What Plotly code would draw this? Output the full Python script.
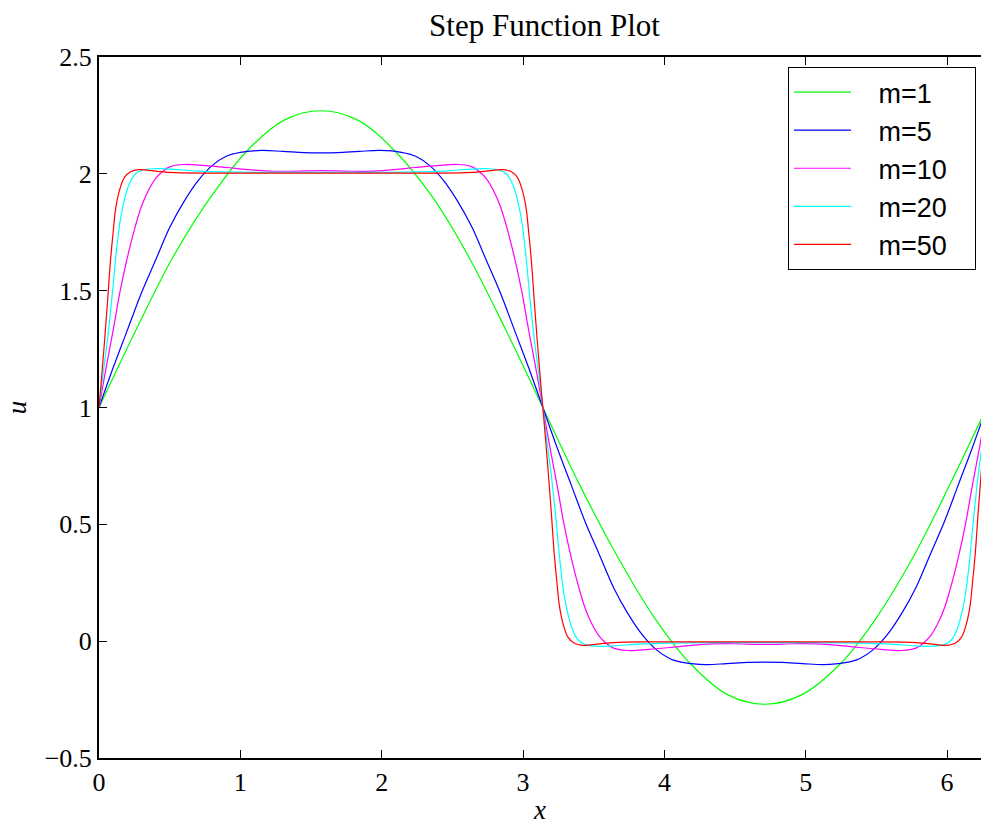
import plotly.graph_objects as go

# ---- data ----
x_m1 = [0, 0.26, 0.52, 0.79, 1.05, 1.31, 1.57, 1.83, 2.09, 2.36, 2.62, 2.88, 3.14,
        3.40, 3.67, 3.93, 4.19, 4.45, 4.71, 4.97, 5.24, 5.50, 5.76, 6.02, 6.28]
u_m1 = [1.00, 1.33, 1.64, 1.90, 2.10, 2.23, 2.27, 2.23, 2.10, 1.90, 1.64, 1.33, 1.00,
        0.67, 0.36, 0.10, -0.10, -0.23, -0.27, -0.23, -0.10, 0.10, 0.36, 0.67, 1.00]

x_m5 = [0, 0.1, 0.2, 0.3, 0.4, 0.5, 0.6, 0.7, 0.8, 0.9, 1.0, 1.15, 1.3, 1.45, 1.57,
        1.69, 1.84, 1.99, 2.14, 2.24, 2.34, 2.44, 2.54, 2.64, 2.74, 2.84, 2.94, 3.04, 3.14,
        3.24, 3.34, 3.44, 3.54, 3.64, 3.74, 3.84, 3.94, 4.04, 4.14, 4.29, 4.44, 4.59, 4.71,
        4.83, 4.98, 5.13, 5.28, 5.38, 5.48, 5.58, 5.68, 5.78, 5.88, 5.98, 6.08, 6.18, 6.28]
u_m5 = [1.00, 1.17, 1.33, 1.49, 1.63, 1.77, 1.88, 1.97, 2.035, 2.075, 2.092, 2.10, 2.096, 2.091, 2.09,
        2.091, 2.096, 2.10, 2.092, 2.075, 2.035, 1.97, 1.88, 1.77, 1.63, 1.49, 1.33, 1.17, 1.00,
        0.83, 0.67, 0.51, 0.37, 0.23, 0.12, 0.03, -0.035, -0.075, -0.092, -0.10, -0.096, -0.091, -0.09,
        -0.091, -0.096, -0.10, -0.092, -0.075, -0.035, 0.03, 0.12, 0.23, 0.37, 0.51, 0.67, 0.83, 1.00]

x_m10 = [0, 0.05, 0.1, 0.15, 0.2, 0.25, 0.3, 0.35, 0.4, 0.45, 0.5, 0.6, 0.75, 0.9, 1.05, 1.2, 1.35, 1.571,
         1.79, 1.94, 2.09, 2.24, 2.39, 2.54, 2.64, 2.69, 2.74, 2.79, 2.84, 2.89, 2.94, 2.99, 3.04, 3.09, 3.14,
         3.19, 3.24, 3.29, 3.34, 3.39, 3.44, 3.49, 3.54, 3.59, 3.64, 3.74, 3.89, 4.04, 4.19, 4.34, 4.49, 4.71,
         4.93, 5.08, 5.23, 5.38, 5.53, 5.68, 5.78, 5.83, 5.88, 5.93, 5.98, 6.03, 6.08, 6.13, 6.18, 6.23, 6.28]
u_m10 = [1.00, 1.17, 1.33, 1.50, 1.64, 1.76, 1.86, 1.93, 1.98, 2.01, 2.03, 2.04, 2.035, 2.027, 2.018, 2.012, 2.011, 2.014,
         2.011, 2.012, 2.018, 2.027, 2.035, 2.04, 2.03, 2.01, 1.98, 1.93, 1.86, 1.76, 1.64, 1.50, 1.33, 1.17, 1.00,
         0.83, 0.67, 0.50, 0.36, 0.24, 0.14, 0.07, 0.02, -0.01, -0.03, -0.04, -0.035, -0.027, -0.018, -0.012, -0.011, -0.014,
         -0.011, -0.012, -0.018, -0.027, -0.035, -0.04, -0.03, -0.01, 0.02, 0.07, 0.14, 0.24, 0.36, 0.50, 0.67, 0.83, 1.00]

x_m20 = [0, 0.03, 0.06, 0.09, 0.12, 0.15, 0.18, 0.21, 0.25, 0.3, 0.4, 0.5, 0.7, 0.9, 1.2, 1.571,
         1.94, 2.24, 2.44, 2.64, 2.74, 2.84, 2.89, 2.93, 2.96, 2.99, 3.02, 3.05, 3.08, 3.11, 3.14,
         3.17, 3.20, 3.23, 3.26, 3.29, 3.32, 3.35, 3.39, 3.44, 3.54, 3.64, 3.84, 4.04, 4.34, 4.71,
         5.08, 5.38, 5.58, 5.78, 5.88, 5.98, 6.03, 6.07, 6.10, 6.13, 6.16, 6.19, 6.22, 6.25, 6.28]
u_m20 = [1.00, 1.15, 1.29, 1.46, 1.65, 1.80, 1.89, 1.95, 1.995, 2.015, 2.022, 2.02, 2.012, 2.008, 2.006, 2.006,
         2.006, 2.008, 2.012, 2.02, 2.022, 2.015, 1.995, 1.95, 1.89, 1.80, 1.65, 1.46, 1.29, 1.15, 1.00,
         0.85, 0.71, 0.54, 0.35, 0.20, 0.11, 0.05, 0.005, -0.015, -0.022, -0.02, -0.012, -0.008, -0.006, -0.006,
         -0.006, -0.008, -0.012, -0.02, -0.022, -0.015, 0.005, 0.05, 0.11, 0.20, 0.35, 0.54, 0.71, 0.85, 1.00]

x_m50 = [0, 0.02, 0.04, 0.06, 0.08, 0.1, 0.12, 0.15, 0.18, 0.22, 0.28, 0.35, 0.5, 0.8, 1.2, 1.571,
         1.94, 2.34, 2.64, 2.79, 2.86, 2.92, 2.96, 2.99, 3.02, 3.04, 3.06, 3.08, 3.10, 3.12, 3.14,
         3.16, 3.18, 3.20, 3.22, 3.24, 3.26, 3.29, 3.32, 3.36, 3.42, 3.49, 3.64, 3.94, 4.34, 4.71,
         5.08, 5.48, 5.78, 5.93, 6.00, 6.06, 6.10, 6.13, 6.16, 6.18, 6.20, 6.22, 6.24, 6.26, 6.28]
u_m50 = [1.00, 1.14, 1.29, 1.45, 1.62, 1.75, 1.86, 1.94, 1.985, 2.008, 2.018, 2.015, 2.006, 2.003, 2.003, 2.003,
         2.003, 2.003, 2.006, 2.015, 2.018, 2.008, 1.985, 1.94, 1.86, 1.75, 1.62, 1.45, 1.29, 1.14, 1.00,
         0.86, 0.71, 0.55, 0.38, 0.25, 0.14, 0.06, 0.015, -0.008, -0.018, -0.015, -0.006, -0.003, -0.003, -0.003,
         -0.003, -0.003, -0.006, -0.015, -0.018, -0.008, 0.015, 0.06, 0.14, 0.25, 0.38, 0.55, 0.71, 0.86, 1.00]

series_names = ["m=1", "m=5", "m=10", "m=20", "m=50"]
series_x = [x_m1, x_m5, x_m10, x_m20, x_m50]
series_u = [u_m1, u_m5, u_m10, u_m20, u_m50]
series_colors = ["#00ff00", "#0000ff", "#ff00ff", "#00ffff", "#ff0000"]

x_ticks = [0, 1, 2, 3, 4, 5, 6]
u_ticks = [-0.5, 0, 0.5, 1, 1.5, 2, 2.5]
u_ticktext = ["\u22120.5", "0", "0.5", "1", "1.5", "2", "2.5"]

serif = "Liberation Serif, Times New Roman, serif"
sans = "Liberation Sans, Arial, sans-serif"
lead = "\u00a0\u00a0\u00a0"
trail = "\u00a0\u00a0\u00a0"

fig = go.Figure()
for name, xs, us, col in zip(series_names, series_x, series_u, series_colors):
    fig.add_trace(go.Scatter(
        x=xs, y=us, mode="lines", name=lead + name + trail, legendgroup=name,
        line=dict(color=col, width=1.2, shape="spline", smoothing=1.0),
    ))

fig.update_layout(
    width=981, height=827,
    margin=dict(l=99, r=0, t=57, b=69),
    paper_bgcolor="white", plot_bgcolor="white",
    title=dict(text="Step Function Plot", x=0.555, xanchor="center", y=0.969, yanchor="middle",
               font=dict(family=serif, size=31, color="black")),
    showlegend=True,
    legend=dict(
        x=0.9943, xanchor="right", y=0.9857, yanchor="top",
        bgcolor="white", bordercolor="black", borderwidth=1,
        font=dict(family=sans, size=27, color="black"),
        traceorder="grouped", tracegroupgap=0, itemwidth=57,
    ),
    xaxis=dict(
        range=[0, 6.24], tickmode="array", tickvals=x_ticks,
        ticks="inside", ticklen=8, tickwidth=1, tickcolor="black",
        showline=True, linecolor="black", linewidth=2, mirror="ticks",
        showgrid=False, zeroline=False,
        tickfont=dict(family=serif, size=26, color="black"),
        title=dict(text="<i>x</i>", font=dict(family=serif, size=27, color="black"), standoff=4),
    ),
    yaxis=dict(
        range=[-0.5, 2.5], tickmode="array", tickvals=u_ticks, ticktext=u_ticktext,
        ticks="inside", ticklen=8, tickwidth=1, tickcolor="black",
        showline=True, linecolor="black", linewidth=2, mirror=False,
        showgrid=False, zeroline=False,
        tickfont=dict(family=serif, size=26, color="black"),
        title=dict(text="<i>u</i>", font=dict(family=serif, size=27, color="black"), standoff=10),
    ),
    yaxis2=dict(
        range=[-0.5, 2.5], overlaying="y", side="right", tickmode="array", tickvals=u_ticks,
        ticks="inside", ticklen=8, tickwidth=1, tickcolor="black",
        showticklabels=False, showline=False, showgrid=False, zeroline=False,
    ),
)

fig.write_html("out.html")
